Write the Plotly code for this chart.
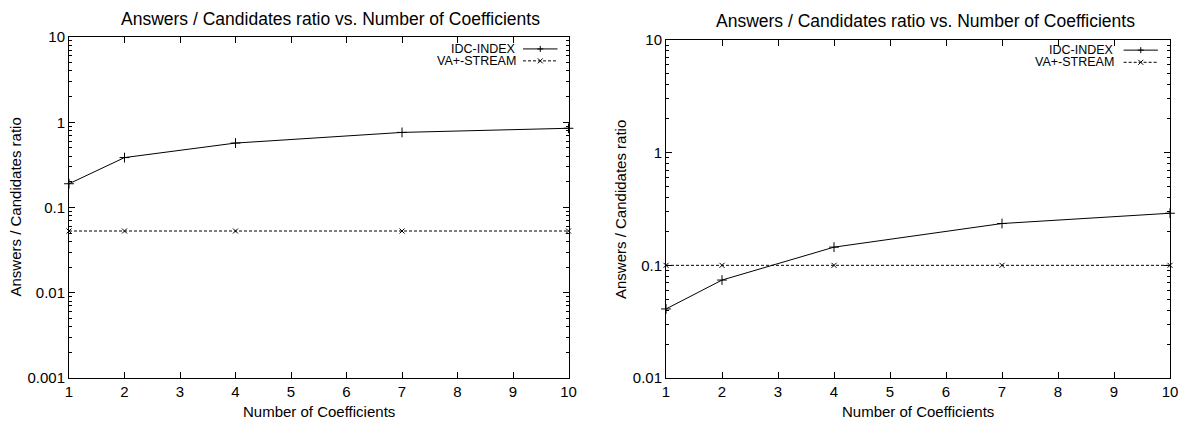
import plotly.graph_objects as go

# Number of coefficients used by the index
coefficients = [1, 2, 4, 7, 10]

# Answers / candidates ratio, left experiment
idc_left = [0.19, 0.385, 0.57, 0.76, 0.85]
va_left = [0.053, 0.053, 0.053, 0.053, 0.053]

# Answers / candidates ratio, right experiment
idc_right = [0.041, 0.074, 0.145, 0.235, 0.29]
va_right = [0.1, 0.1, 0.1, 0.1, 0.1]

series_names = ["IDC-INDEX", "VA+-STREAM"]
title_text = "Answers / Candidates ratio vs. Number of Coefficients"
x_title = "Number of Coefficients"
y_title = "Answers / Candidates ratio"

left_yticks = [0.001, 0.01, 0.1, 1, 10]
right_yticks = [0.01, 0.1, 1, 10]
x_ticks = list(range(1, 11))

FONT = "Liberation Sans, Arial, Helvetica, sans-serif"
W, H = 1187, 421

fig = go.Figure()

panels = [
    dict(xa="x", ya="y", idc=idc_left, va=va_left),
    dict(xa="x2", ya="y2", idc=idc_right, va=va_right),
]

for p in panels:
    fig.add_trace(go.Scatter(
        x=coefficients, y=p["idc"], mode="lines+markers", name=series_names[0],
        xaxis=p["xa"], yaxis=p["ya"], showlegend=False, cliponaxis=False,
        line=dict(color="black", width=1),
        marker=dict(symbol="cross-thin", size=7, color="black",
                    line=dict(width=1, color="black")),
    ))
    fig.add_trace(go.Scatter(
        x=coefficients, y=p["va"], mode="lines+markers", name=series_names[1],
        xaxis=p["xa"], yaxis=p["ya"], showlegend=False, cliponaxis=False,
        line=dict(color="black", width=1, dash="3px,2px"),
        marker=dict(symbol="x-thin", size=5, color="black",
                    line=dict(width=1, color="black")),
    ))

# Plot area placement in pixels: (left, right, top, bottom)
boxes = [(69, 568.5, 37, 378), (666, 1170, 40, 378)]


def xdom(b):
    return [b[0] / W, b[1] / W]


def ydom(b):
    return [1 - b[3] / H, 1 - b[2] / H]


common_x = dict(
    range=[1, 10], tickmode="array", tickvals=x_ticks,
    ticks="inside", ticklen=6, tickwidth=1, tickcolor="black",
    showline=True, linecolor="black", linewidth=1, mirror="ticks",
    showgrid=False, zeroline=False, automargin=False,
    tickfont=dict(family=FONT, size=15, color="black"),
)


def yaxis_cfg(b, ticks, lo):
    return dict(
        type="log", range=[lo, 1], domain=ydom(b),
        tickmode="array", tickvals=ticks, ticktext=[f"{t:g}" for t in ticks],
        ticks="inside", ticklen=6, tickwidth=1, tickcolor="black",
        minor=dict(ticks="inside", ticklen=3, tickcolor="black", dtick="D1", showgrid=False),
        showline=True, linecolor="black", linewidth=1, mirror="ticks",
        showgrid=False, zeroline=False, automargin=False,
        tickfont=dict(family=FONT, size=15, color="black"),
    )


fig.update_layout(
    width=W, height=H,
    margin=dict(l=0, r=0, t=0, b=0, autoexpand=False),
    paper_bgcolor="white", plot_bgcolor="white",
    showlegend=False,
    xaxis=dict(common_x, domain=xdom(boxes[0]), anchor="y"),
    yaxis=dict(yaxis_cfg(boxes[0], left_yticks, -3), anchor="x"),
    xaxis2=dict(common_x, domain=xdom(boxes[1]), anchor="y2"),
    yaxis2=dict(yaxis_cfg(boxes[1], right_yticks, -2), anchor="x2"),
)

annotations = []
shapes = []

# Panel titles, x-axis titles and y-axis titles
for b, cx, cy, ytx in [(boxes[0], 330, 19, 15), (boxes[1], 925, 21, 620)]:
    annotations.append(dict(
        text=title_text, x=cx / W, y=1 - cy / H, xref="paper", yref="paper",
        xanchor="center", yanchor="middle", showarrow=False,
        font=dict(family=FONT, size=17.5, color="black"),
    ))
    annotations.append(dict(
        text=x_title, x=((b[0] + b[1]) / 2) / W, y=1 - 411 / H, xref="paper", yref="paper",
        xanchor="center", yanchor="middle", showarrow=False,
        font=dict(family=FONT, size=15, color="black"),
    ))
    annotations.append(dict(
        text=y_title, x=ytx / W, y=1 - ((b[2] + b[3]) / 2) / H, xref="paper", yref="paper",
        xanchor="center", yanchor="middle", showarrow=False, textangle=-90,
        font=dict(family=FONT, size=15, color="black"),
    ))

# Key in the upper right corner of each panel: label, then line sample with marker
for xa, ya, rows in [
    ("x", "y", [(0.965, 0.899, 0.909, 0.978), (0.930, 0.899, 0.909, 0.978)]),
    ("x2", "y2", [(0.970, 0.893, 0.908, 0.976), (0.934, 0.893, 0.908, 0.976)]),
]:
    xr, yr = f"{xa} domain", f"{ya} domain"
    for i, (yy, tx, l0, l1) in enumerate(rows):
        annotations.append(dict(
            text=series_names[i], x=tx, y=yy, xref=xr, yref=yr,
            xanchor="right", yanchor="middle", showarrow=False,
            font=dict(family=FONT, size=12.5, color="black"),
        ))
        shapes.append(dict(
            type="line", xref=xr, yref=yr, x0=l0, x1=l1, y0=yy, y1=yy,
            line=dict(color="black", width=1, dash="solid" if i == 0 else "3px,2px"),
        ))
        mid = (l0 + l1) / 2
        if i == 0:
            segs = [(-3, 0, 3, 0), (0, -3, 0, 3)]
        else:
            segs = [(-2.5, -2.5, 2.5, 2.5), (-2.5, 2.5, 2.5, -2.5)]
        for (a0, b0, a1, b1) in segs:
            shapes.append(dict(
                type="line", xref=xr, yref=yr,
                xsizemode="pixel", ysizemode="pixel", xanchor=mid, yanchor=yy,
                x0=a0, x1=a1, y0=b0, y1=b1,
                line=dict(color="black", width=1),
            ))

fig.update_layout(annotations=annotations, shapes=shapes)

fig.write_html("out.html")
